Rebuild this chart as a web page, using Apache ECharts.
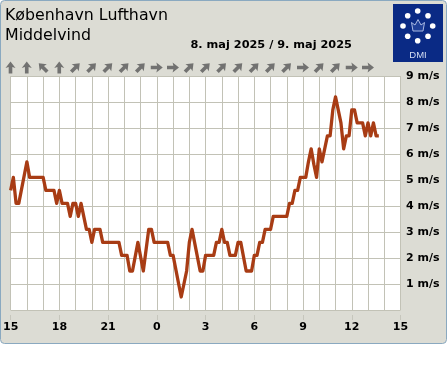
<!DOCTYPE html>
<html><head><meta charset="utf-8">
<style>html,body{margin:0;padding:0;background:#fff}#c{width:447px;height:370px}</style>
<script src="https://cdn.jsdelivr.net/npm/echarts@6/dist/echarts.min.js"></script>
</head><body><div id="c"></div>
<script>
const minutes=[0,10,20,30,60,70,120,130,160,170,180,190,210,220,230,240,250,260,280,290,300,310,330,340,400,410,430,440,450,470,490,510,520,530,580,590,600,630,650,660,670,700,710,720,750,760,770,780,790,800,810,830,840,850,870,890,900,910,920,930,940,960,970,1020,1030,1040,1050,1060,1070,1090,1100,1110,1120,1130,1140,1150,1170,1180,1190,1200,1220,1230,1240,1250,1260,1270,1280,1300,1310,1320,1330,1340,1350,1360];
const windSpeed=[4.6,5.1,4.1,4.1,5.7,5.1,5.1,4.6,4.6,4.1,4.6,4.1,4.1,3.6,4.1,4.1,3.6,4.1,3.1,3.1,2.6,3.1,3.1,2.6,2.6,2.1,2.1,1.5,1.5,2.6,1.5,3.1,3.1,2.6,2.6,2.1,2.1,0.5,1.5,2.6,3.1,1.5,1.5,2.1,2.1,2.6,2.6,3.1,2.6,2.6,2.1,2.1,2.6,2.6,1.5,1.5,2.1,2.1,2.6,2.6,3.1,3.1,3.6,3.6,4.1,4.1,4.6,4.6,5.1,5.1,5.7,6.2,5.6,5.1,6.2,5.7,6.7,6.7,7.7,8.2,7.2,6.2,6.7,6.7,7.7,7.7,7.2,7.2,6.7,7.2,6.7,7.2,6.7,6.7];
const hourLabels=['15','18','21','0','3','6','9','12','15'];
const speedTicks=[1,2,3,4,5,6,7,8,9];
const windDirFrom=[180,180,135,180,225,225,225,225,225,270,270,225,225,225,225,225,225,225,270,225,225,270,270];
const titleLines=['København Lufthavn','Middelvind'];
const dateText='8. maj 2025 / 9. maj 2025';

const mono='"DejaVu Sans",sans-serif';
const arrow='path://M5,0 L10.5,6.4 L7,5.6 L7,12 L3,12 L3,5.6 L-0.5,6.4 Z';
const chart=echarts.init(document.getElementById('c'),null,{renderer:'canvas'});
const dots=[[407.7,15.7],[417.7,11],[428,15.7],[403,26],[432.7,26],[407.7,36.3],[417.7,40.7],[428,36.3]];
chart.setOption({
 animation:false,backgroundColor:'#fff',
 graphic:[
  {type:'rect',z:-10,shape:{x:0.5,y:0.5,width:446,height:343,r:4},style:{fill:'#dcdcd4',stroke:'#8aa9c0',lineWidth:1}},
  {type:'rect',shape:{x:393,y:4,width:50,height:58},style:{fill:'#0a2a85'}},
  ...dots.map(d=>({type:'circle',shape:{cx:d[0],cy:d[1],r:2.8},style:{fill:'#fff'}})),
  {type:'text',x:418,y:50,style:{text:'DMI',fill:'#d5def2',font:'9.5px "Liberation Sans",sans-serif',align:'center'}},
  {type:'polygon',shape:{points:[[413,31],[411.5,22.5],[415,25],[418,19.5],[421,25],[424.5,22.5],[423,31]]},style:{fill:'#1f3f98',stroke:'#a9b9e2',lineWidth:1}},
  {type:'text',x:5,y:7.5,style:{text:titleLines[0],fill:'#000',font:'15.8px '+mono}},
  {type:'text',x:5,y:27.5,style:{text:titleLines[1],fill:'#000',font:'15.8px '+mono}},
  {type:'text',x:190.5,y:40,style:{text:dateText,fill:'#000',font:'bold 11.3px '+mono}}
 ],
 grid:[
  {left:10.5,right:46.5,top:76,height:234,show:true,backgroundColor:'#fff',borderWidth:0},
  {left:10.5,right:46.5,top:60.5,height:14}
 ],
 xAxis:[
  {type:'value',gridIndex:0,min:0,max:1440,interval:60,
   axisLine:{show:false},axisTick:{show:false},axisLabel:{show:false},
   splitLine:{show:true,lineStyle:{color:'#c2c2b6',width:1}}},
  {type:'value',gridIndex:0,min:0,max:1440,interval:180,position:'bottom',offset:5,
   axisLine:{show:false},axisTick:{show:true,length:5,lineStyle:{color:'#c6c6bc',width:1}},
   axisLabel:{show:true,margin:7,color:'#000',fontFamily:'DejaVu Sans',fontWeight:'bold',fontSize:11,hideOverlap:false,
     showMinLabel:true,showMaxLabel:true,formatter:v=>hourLabels[v/180]},
   splitLine:{show:false}},
  {type:'value',gridIndex:1,min:0,max:1440,show:false}
 ],
 yAxis:[
  {type:'value',gridIndex:0,min:0,max:9,interval:1,position:'right',
   axisLine:{show:false},axisTick:{show:false},
   axisLabel:{margin:5.5,color:'#000',fontFamily:'DejaVu Sans',fontWeight:'bold',fontSize:11,
     showMaxLabel:true,formatter:v=>speedTicks.includes(v)?v+' m/s':''},
   splitLine:{show:true,lineStyle:{color:'#c2c2b6',width:1}}},
  {type:'value',gridIndex:1,min:0,max:1,show:false}
 ],
 series:[
  {type:'line',xAxisIndex:0,yAxisIndex:0,showSymbol:false,symbol:'none',clip:false,z:5,
   lineStyle:{color:'#a83c14',width:3.3,join:'round'},
   data:minutes.map((m,i)=>[m,windSpeed[i]])},
  {type:'scatter',xAxisIndex:2,yAxisIndex:1,symbol:arrow,symbolSize:[10,12],
   itemStyle:{color:'#585858'},
   data:windDirFrom.map((d,i)=>({value:[i*60,0.5],symbolRotate:(180-d+360)%360}))}
 ]
});
</script></body></html>
